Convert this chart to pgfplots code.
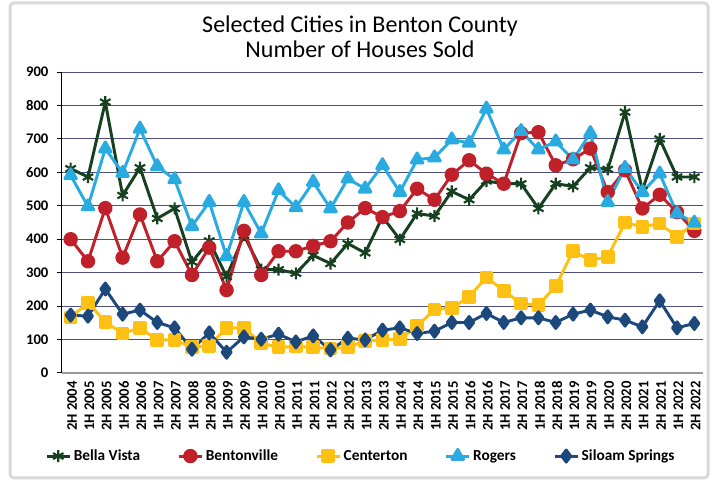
\documentclass[border=0pt]{standalone}
\usepackage{pgfplots}
\pgfplotsset{compat=1.18}
\usepackage{pgfplotstable}
\usepackage{fontspec}
\setmainfont{Carlito}
\definecolor{bv}{RGB}{22,64,32}
\definecolor{bt}{RGB}{192,32,42}
\definecolor{ct}{RGB}{255,192,20}
\definecolor{rg}{RGB}{41,171,226}
\definecolor{ss}{RGB}{28,72,124}
\definecolor{gridc}{RGB}{80,80,125}
\definecolor{framec}{RGB}{217,217,217}
\pgfplotstableread{
x BV BT CT RG SS
0 611 400 166 591 173
1 586 334 210 498 170
2 810 493 153 671 251
3 531 345 118 598 176
4 614 474 135 730 188
5 462 334 99 618 151
6 492 394 99 579 135
7 332 293 77 439 71
8 395 375 81 511 120
9 288 248 135 349 62
10 412 425 135 511 108
11 309 293 89 417 101
12 309 364 77 546 116
13 298 364 79 495 93
14 352 380 77 571 111
15 327 394 73 492 69
16 387 450 77 581 104
17 359 493 96 551 99
18 467 466 99 621 128
19 399 484 101 541 135
20 477 551 140 638 118
21 469 518 190 644 125
22 543 593 194 698 151
23 518 636 228 688 151
24 574 596 286 790 178
25 566 566 246 668 151
26 566 717 208 723 165
27 492 720 203 668 165
28 566 621 260 692 151
29 558 639 364 638 176
30 614 671 337 717 188
31 609 541 347 511 168
32 780 606 450 613 158
33 546 492 437 541 138
34 700 533 447 596 216
35 586 481 407 477 135
36 586 425 447 449 148
}\data
\begin{document}
\begin{tikzpicture}
\useasboundingbox (0,0) rectangle (536.25pt,360.75pt);
\fill[white] (0,0) rectangle (536.25pt,360.75pt);
\draw[framec, line width=2.25pt, rounded corners=3pt] (7.5pt,2.25pt) rectangle (531pt,358.5pt);
\node[align=center, font=\fontsize{18}{18.75}\selectfont] at (270pt,333pt) {Selected Cities in Benton County\\Number of Houses Sold};
\begin{axis}[
 at={(46.5pt,81pt)}, anchor=south west,
 scale only axis, width=480.75pt, height=225.75pt,
 xmin=-0.5, xmax=36.5, ymin=0, ymax=900,
 ytick={0,100,...,900},
 xtick={0,...,36},
 xticklabels={2H 2004,1H 2005,2H 2005,1H 2006,2H 2006,1H 2007,2H 2007,1H 2008,2H 2008,1H 2009,2H 2009,1H 2010,2H 2010,1H 2011,2H 2011,1H 2012,2H 2012,1H 2013,2H 2013,1H 2014,2H 2014,1H 2015,2H 2015,1H 2016,2H 2016,1H 2017,2H 2017,1H 2018,2H 2018,1H 2019,2H 2019,1H 2020,2H 2020,1H 2021,2H 2021,1H 2022,2H 2022},
 axis x line*=bottom, axis y line*=left,
 x axis line style={draw=black!40, line width=1pt},
 y axis line style={draw=black, line width=0.75pt},
 ymajorgrids, grid style={gridc, line width=0.75pt},
 tick align=outside, major tick length=4pt,
 xtick style={draw=none},
 ytick style={black, line width=0.75pt},
 ticklabel style={font=\fontsize{11}{13}\selectfont\bfseries},
 /pgf/number format/assume math mode=true,
 xticklabel style={rotate=90, anchor=east, inner sep=2pt, yshift=-1pt},
 yticklabel style={inner sep=2pt, xshift=-4pt},
 legend columns=5,
 legend style={at={(0.467,-0.276)}, anchor=center, draw=none, fill=none,
   font=\fontsize{11.5}{13}\selectfont\bfseries,
   /tikz/every even column/.append style={column sep=26pt}},
 every axis plot/.append style={line width=2.2pt, line join=round},
]
\addplot[bv, mark=asterisk, mark size=4.5pt, mark options={line width=1.6pt}] table[x=x,y=BV]{\data};
\addlegendentry{Bella Vista}
\addplot[bt, mark=*, mark size=4.3pt] table[x=x,y=BT]{\data};
\addlegendentry{Bentonville}
\addplot[ct, mark=square*, mark size=4pt] table[x=x,y=CT]{\data};
\addlegendentry{Centerton}
\addplot[rg, mark=triangle*, mark size=5pt] table[x=x,y=RG]{\data};
\addlegendentry{Rogers}
\addplot[ss, mark=diamond*, mark size=4.5pt] table[x=x,y=SS]{\data};
\addlegendentry{Siloam Springs}
\end{axis}
\end{tikzpicture}
\end{document}
